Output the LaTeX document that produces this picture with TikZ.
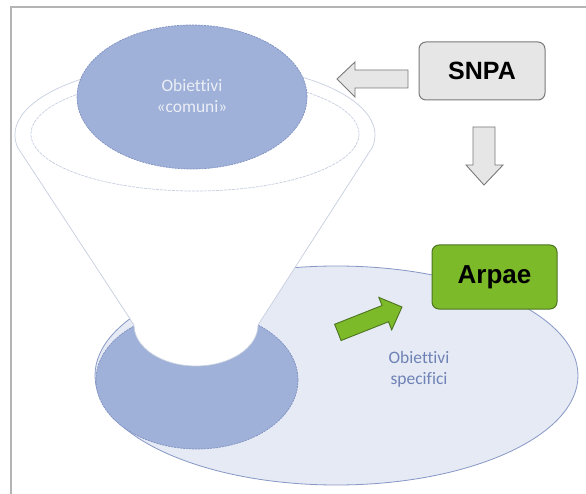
\documentclass[tikz,border=0pt]{standalone}
\usepackage{fontspec}
\setmainfont{Liberation Sans}
\newfontfamily\calib[Ligatures=CommonOff]{Carlito}
\usetikzlibrary{shapes.geometric}
\definecolor{framec}{HTML}{B4B4B4}
\definecolor{specfill}{HTML}{E5EAF4}
\definecolor{specline}{HTML}{8797C6}
\definecolor{darkfill}{HTML}{9FB1D8}
\definecolor{darkline}{HTML}{7D90C0}
\definecolor{funline}{HTML}{C6CEE0}
\definecolor{spectext}{HTML}{6F82B5}
\definecolor{comtext}{HTML}{EBEEF6}
\definecolor{grayfill}{HTML}{E6E6E6}
\definecolor{grayline}{HTML}{7A7A7A}
\definecolor{greenfill}{HTML}{7CBA2A}
\definecolor{greenline}{HTML}{4D7420}
\begin{document}
\begin{tikzpicture}[x=1pt,y=-1pt,
  blueell/.style={ellipse, inner sep=0pt, fill=darkfill, draw=darkline, line width=0.7pt, dash pattern=on 2pt off 1pt},
  specell/.style={ellipse, inner sep=0pt, fill=specfill, draw=specline, line width=0.8pt},
  rim/.style={draw=funline, line width=0.7pt},
  lbl/.style={align=center, font=\calib\fontsize{17.5}{21}\selectfont, inner sep=0pt},
  boxsty/.style={rounded corners=7pt, line width=1pt, font=\bfseries\fontsize{25}{30}\selectfont, text=black, inner sep=0pt},
  garrow/.style={fill=grayfill, draw=grayline, line width=0.9pt, line join=miter},
  greenarrow/.style={fill=greenfill, draw=greenline, line width=0.9pt, line join=miter}]
\useasboundingbox (0,0) rectangle (586,494);
\fill[white] (0,0) rectangle (586,494);
% frame
\draw[framec, line width=1.6pt] (11,494) -- (11,7) -- (586,7);
% specific objectives ellipse
\node[specell, minimum width=483pt, minimum height=219pt] (spec) at (336.5,375.5) {};
% funnel bottom (dark)
\node[blueell, minimum width=202pt, minimum height=138pt] (bottom) at (197,380) {};
% funnel body
\path[rim, fill=white] (134,325) -- (17.7,147.5)
  arc[start angle=170, end angle=370, x radius=180, y radius=72]
  -- (258,325) arc[start angle=0, end angle=180, x radius=62, y radius=41] -- cycle;
% inner rim
\draw[rim, dash pattern=on 3pt off 1pt] (195,134) ellipse[x radius=164, y radius=57];
% common objectives ellipse
\node[blueell, minimum width=230pt, minimum height=144pt] (comuni) at (192,97) {};
\node[lbl, text=comtext] (comunitxt) at (192,96) {Obiettivi\\«comuni»};
\node[lbl, text=spectext] (spectxt) at (419,369) {Obiettivi\\specifici};
% boxes
\node[boxsty, fill=grayfill, draw=grayline, minimum width=126pt, minimum height=58pt] (snpa) at (482,71) {SNPA};
\node[boxsty, fill=greenfill, draw=greenline, minimum width=125pt, minimum height=64pt, font=\bfseries\fontsize{26}{30}\selectfont] (arpae) at (494.5,277) {Arpae};
% arrow SNPA -> comuni
\draw[garrow] (337,79) -- (355,62) -- (355,70) -- (408,70) -- (408,88) -- (355,88) -- (355,97) -- cycle;
% arrow SNPA down
\draw[garrow] (473,127) -- (495,127) -- (495,165) -- (503,165) -- (484,185) -- (466,165) -- (473,165) -- cycle;
% green arrow towards Arpae
\begin{scope}[shift={(402,307)}, rotate=21.6]
\draw[greenarrow] (0,0) -- (-18,17.5) -- (-18,8.75) -- (-69,8.75) -- (-69,-8.75) -- (-18,-8.75) -- (-18,-17.5) -- cycle;
\end{scope}
\end{tikzpicture}
\end{document}
